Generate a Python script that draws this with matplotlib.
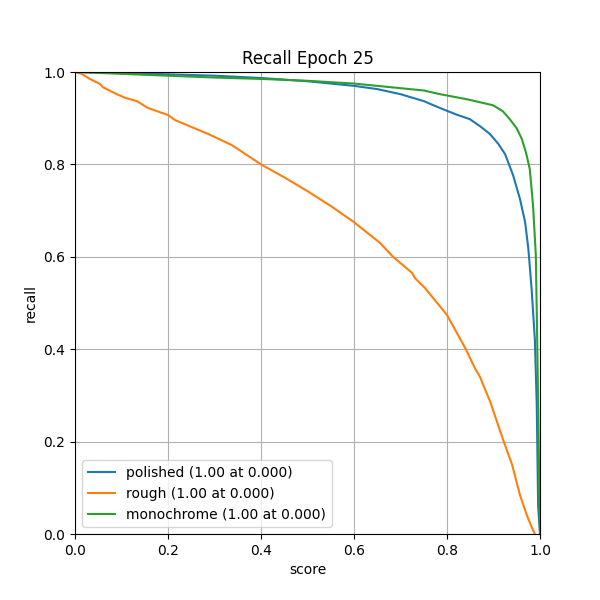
import matplotlib
matplotlib.use('Agg')
import matplotlib.pyplot as plt

# values
polished_score = [0.0, 0.1, 0.2, 0.3, 0.4, 0.5, 0.6, 0.65, 0.7, 0.75, 0.785, 0.82, 0.849, 0.872,
                  0.892, 0.91, 0.925, 0.942, 0.957, 0.968, 0.975, 0.982, 0.989, 0.993, 0.996, 1.0]
polished_recall = [1.0, 0.998, 0.995, 0.992, 0.987, 0.98, 0.97, 0.963, 0.952, 0.937, 0.922, 0.908, 0.898, 0.882,
                   0.866, 0.845, 0.822, 0.777, 0.725, 0.675, 0.617, 0.53, 0.42, 0.28, 0.06, 0.0]

rough_score = [0.0, 0.014, 0.032, 0.054, 0.06, 0.09, 0.108, 0.133, 0.157, 0.2, 0.215, 0.286, 0.337,
               0.4, 0.45, 0.5, 0.55, 0.6, 0.656, 0.684, 0.725, 0.731, 0.753, 0.8, 0.839, 0.86,
               0.871, 0.893, 0.92, 0.94, 0.957, 0.972, 0.982, 0.989]
rough_recall = [1.0, 0.996, 0.985, 0.974, 0.967, 0.952, 0.944, 0.937, 0.922, 0.907, 0.896, 0.866, 0.842,
                0.80, 0.772, 0.742, 0.71, 0.675, 0.630, 0.600, 0.565, 0.554, 0.532, 0.474, 0.403, 0.359,
                0.340, 0.286, 0.206, 0.15, 0.084, 0.04, 0.015, 0.0]

mono_score = [0.0, 0.1, 0.2, 0.3, 0.4, 0.5, 0.6, 0.65, 0.7, 0.75, 0.785, 0.843, 0.899, 0.92, 0.935,
              0.95, 0.961, 0.97, 0.978, 0.985, 0.991, 0.994, 0.997, 1.0]
mono_recall = [1.0, 0.996, 0.992, 0.988, 0.985, 0.981, 0.975, 0.97, 0.965, 0.96, 0.952, 0.941, 0.928, 0.915, 0.898,
               0.878, 0.855, 0.825, 0.79, 0.712, 0.604, 0.42, 0.206, 0.0]

fig, ax = plt.subplots(figsize=(6, 6), dpi=100)
ax.plot(polished_score, polished_recall, label='polished (1.00 at 0.000)')
ax.plot(rough_score, rough_recall, label='rough (1.00 at 0.000)')
ax.plot(mono_score, mono_recall, label='monochrome (1.00 at 0.000)')
ax.set_xlim(0, 1)
ax.set_ylim(0, 1)
ax.set_xlabel('score')
ax.set_ylabel('recall')
ax.set_title('Recall Epoch 25')
ax.grid(True)
ax.legend(loc='lower left')
fig.savefig('out.png')
